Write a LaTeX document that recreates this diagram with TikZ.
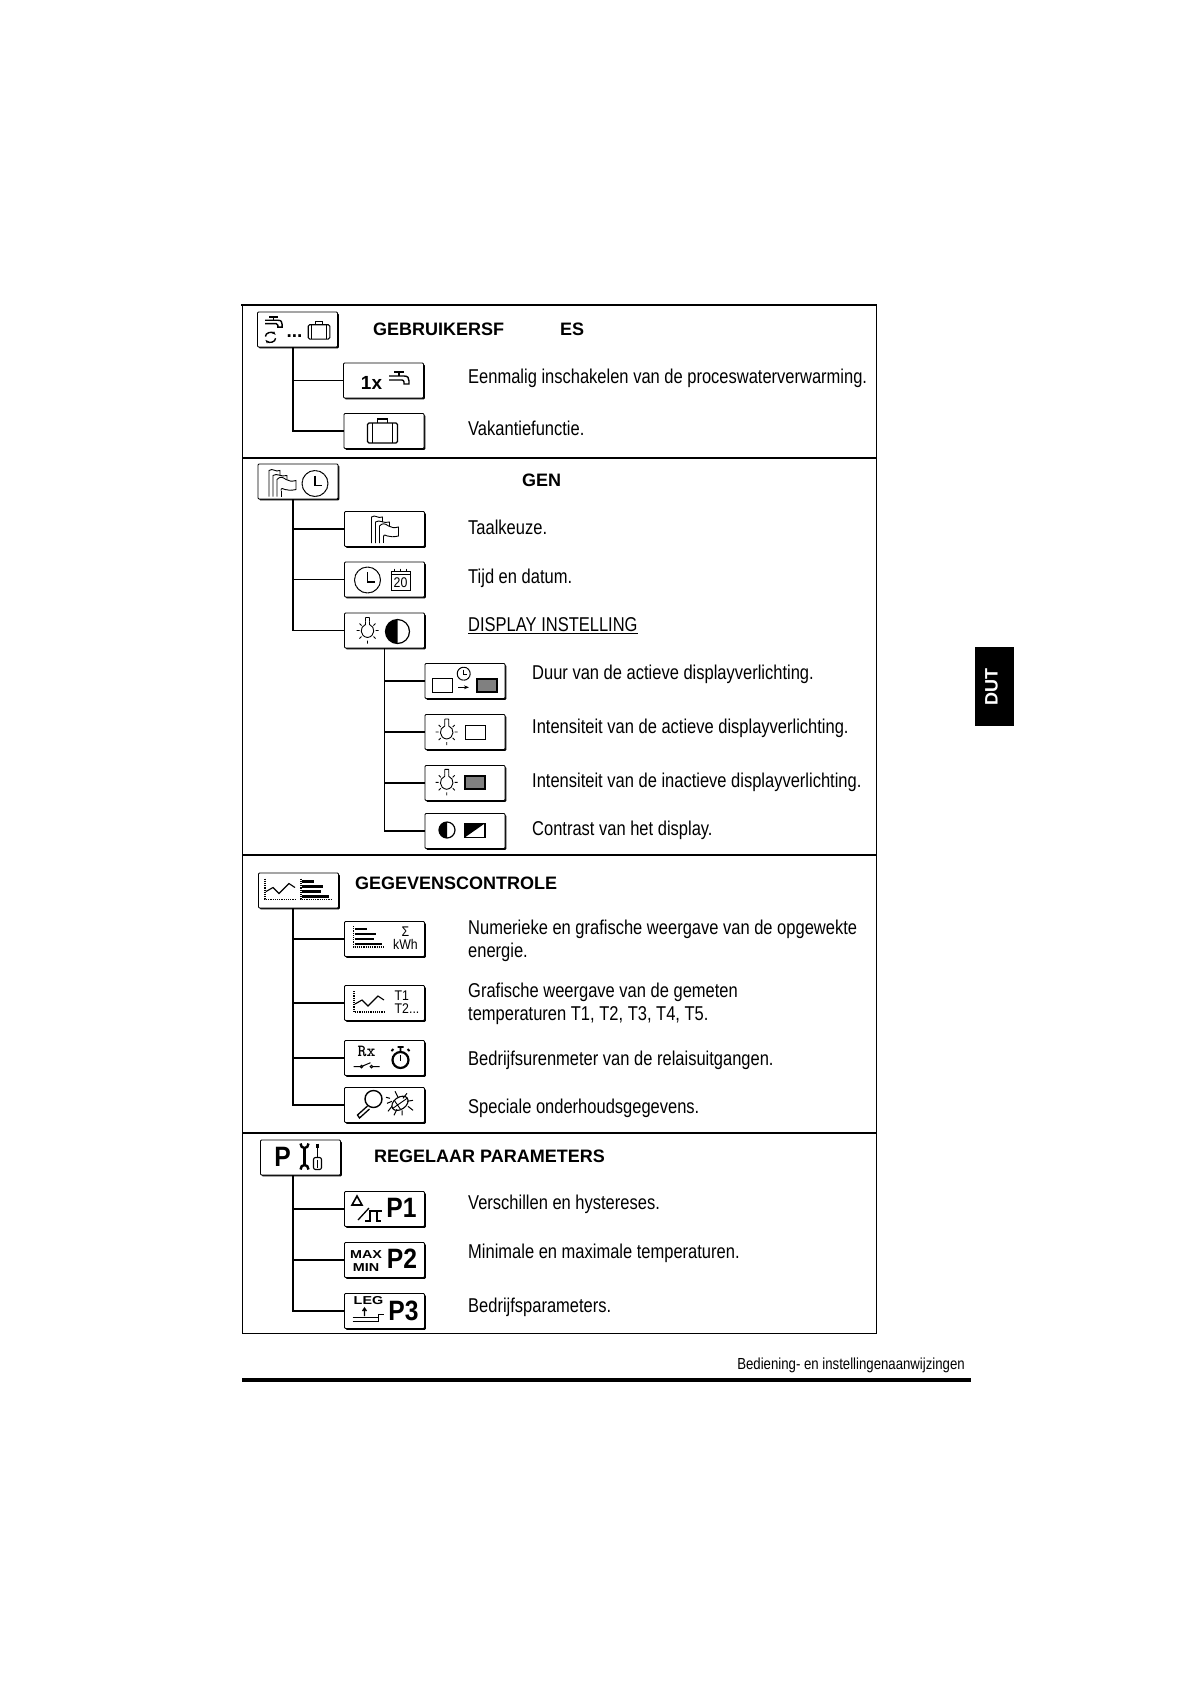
\documentclass[tikz,border=0pt]{standalone}
\usepackage{fontspec}
\setmainfont{Liberation Sans}
\newfontfamily\bodyfont[FakeStretch=0.825]{Liberation Sans}
\newfontfamily\iconfont[FakeStretch=0.88]{Liberation Sans}
\newfontfamily\widefont[FakeStretch=1.25]{Liberation Sans}
\usetikzlibrary{shadows,arrows.meta}
\tikzset{
  iconbox/.style={draw,fill=white,line width=.8pt,rounded corners=1pt,minimum width=80pt,minimum height=35pt,inner sep=0pt,
    drop shadow={shadow xshift=1.3pt,shadow yshift=-1.3pt,opacity=1,fill=black}},
  conn/.style={line width=1.9pt},
  sect/.style={line width=1.4pt},
  headtxt/.style={anchor=west,inner sep=0pt,font=\fontsize{18}{20}\selectfont\bfseries},
  bodytxt/.style={anchor=west,inner sep=0pt,align=left,font=\fontsize{20}{23}\bodyfont},
  thin icon/.style={line width=.9pt},
  bigp/.style={inner sep=0pt,font=\fontsize{28}{28}\iconfont\bfseries},
  smalltxt/.style={inner sep=0pt,font=\fontsize{14}{13}\iconfont},
  pixeltxt/.style={inner sep=0pt,align=center,font=\fontsize{11.5}{13}\widefont\bfseries},
  tap/.pic={
    \draw[line width=2.2pt] (-6,-9) -- (4,-9);
    \draw[line width=1.6pt] (-1,-9) -- (-1,-5);
    \draw[line width=1.4pt] (-11,-5) -- (4,-5) .. controls (8,-5) and (9,-3) .. (9,0) -- (9,3) -- (4,3) -- (4,1) .. controls (4,0) and (3,-1) .. (2,-1) -- (-11,-1);
  },
  recycle/.pic={
    \draw[line width=1.4pt,-{Stealth[length=4pt]}] (-6,0) .. controls (-6,-5) and (2,-6) .. (6,-2);
    \draw[line width=1.4pt,-{Stealth[length=4pt]}] (6,2) .. controls (6,7) and (-2,8) .. (-6,4);
  },
  suitcase/.pic={
    \draw[line width=1.1pt,rounded corners=1.5pt] (-15,-8) rectangle (15,12);
    \draw[line width=1.1pt] (-5,-8) -- (-5,-12) -- (5,-12) -- (5,-8);
    \draw[line width=1.1pt] (-10,-8) -- (-10,12) (10,-8) -- (10,12);
  },
  flags/.pic={
    \draw[thin icon] (-13,14) -- (-13,-12) .. controls (-9,-15) and (-7,-10) .. (-2,-12) -- (-2,-7);
    \draw[thin icon] (-9,14) -- (-9,-7) .. controls (-5,-10) and (-1,-5) .. (5,-7) -- (5,-3);
    \draw[thin icon] (-5,14) -- (-5,-3) .. controls (-2,-6) and (0,-6) .. (4,-3) .. controls (7,-1) and (10,-1) .. (14,-2) -- (14,7) .. controls (9,8) and (6,8) .. (3,7) .. controls (1,6) and (-1,5) .. (-1,8);
    \draw[thin icon] (-1,14) -- (-1,8);
  },
  clockface/.pic={
    \draw[line width=1pt,dash pattern=on 3pt off .4pt] (0,0) circle (13);
    \draw[line width=1.1pt] (0,-8) -- (0,2) -- (7,2);
  },
  calendar/.pic={
    \draw[line width=1pt] (-9.5,-8) rectangle (9.5,11);
    \draw[line width=1pt] (-9.5,-5) -- (9.5,-5);
    \draw[line width=1.4pt] (-6,-11) -- (-6,-8) (0,-11) -- (0,-8) (6,-11) -- (6,-8);
    \node[smalltxt] (calnum) at (0,3) {20};
  },
  bulb/.pic={
    \draw[thin icon,rounded corners=.5pt] (-2,-9) -- (-2,-13) -- (2,-13) -- (2,-9);
    \draw[thin icon] (-2,-9) -- (-2,-6) .. controls (-8,-4) and (-8,6) .. (0,7) .. controls (8,6) and (8,-4) .. (2,-6) -- (2,-9);
    \draw[thin icon] (-11,0) -- (-8,0) (8,0) -- (11,0) (0,10) -- (0,13) (-8,-7) -- (-6,-5) (8,-7) -- (6,-5) (-8,8) -- (-6,6) (8,8) -- (6,6);
  },
  halfdisc/.pic={
    \draw[line width=1.2pt] (0,0) circle (10);
    \fill (0,-10) arc (-90:-270:10) -- cycle;
  },
  screen/.pic={\draw[line width=.9pt] (-10,-7) rectangle (10,7);},
  dimscreen/.pic={\draw[line width=1.4pt,fill=black!50] (-10,-6.5) rectangle (10,6.5);},
  contrastscreen/.pic={
    \draw[line width=1.1pt] (-10,-7) rectangle (10,7);
    \fill (-10,-7) -- (10,-7) -- (-10,7) -- cycle;
  },
  barchart/.pic={
    \draw[densely dotted,line width=1.2pt] (-15,-11) -- (-15,10) -- (15,10);
    \draw[line width=2.5pt] (-14,-8) -- (-2,-8) (-14,-3) -- (7,-3) (-14,2) -- (5,2) (-14,7) -- (13,7);
  },
  linechart/.pic={
    \draw[densely dotted,line width=1.2pt] (-15,-11) -- (-15,10) -- (15,10);
    \draw[line width=1.1pt] (-14,2) -- (-7,-2) -- (-1,4) -- (9,-6) -- (15,-2);
  },
  stopwatch/.pic={
    \draw[line width=2.2pt] (0,2) circle (8);
    \draw[line width=1.8pt] (-3,-11) -- (3,-11) (0,-11) -- (0,-6) (7,-9) -- (9,-7) (-7,-9) -- (-9,-7);
    \draw[line width=1.4pt] (0,-3) -- (0,3);
  },
  switch/.pic={
    \draw[line width=1pt] (-13,0) -- (-6,0) (6,0) -- (13,0) (-5,-.2) -- (4,-4);
    \draw[line width=1pt] (-5,0) circle (1.3) (5,0) circle (1.3);
  },
  loupe/.pic={
    \draw[line width=1.4pt] (5,-8) circle (8.5);
    \draw[line width=1.3pt] (-1,-1) -- (-11,8) -- (-9,11) -- (1,2);
  },
  bug/.pic={
    \draw[line width=1.1pt,rotate=35] (0,0) ellipse (9 and 6);
    \draw[line width=.9pt,rotate=35] (-9,0) -- (9,0) (-3,-5) -- (-3,5);
    \draw[line width=1pt] (-2,-6) -- (-5,-12) (3,-5) -- (7,-10) (7,-2) -- (13,-3) (8,3) -- (13,7) (-8,-2) -- (-13,0) (-8,3) -- (-12,8) (-3,6) -- (-6,12) (2,7) -- (2,12) (-14,-6) -- (-10,-5);
  },
  tools/.pic={
    \draw[line width=3.4pt] (-8,-9) -- (-8,9);
    \draw[line width=2.4pt] (-12,-13) .. controls (-12,-7) and (-4,-7) .. (-4,-13);
    \draw[line width=2.4pt] (-12,13) .. controls (-12,7) and (-4,7) .. (-4,13);
    \draw[line width=3.6pt] (5,-13) -- (5,-9);
    \draw[line width=1.2pt] (5,-9) -- (5,0);
    \draw[line width=1.1pt,rounded corners=2pt] (1,13) -- (1,1) -- (9,1) -- (9,13) -- cycle;
    \draw[line width=1pt] (5,3) -- (5,11);
  },
  deltastep/.pic={
    \draw[line width=1.6pt] (-16,-4) -- (-11,-13) -- (-6,-4) -- cycle;
    \draw[line width=1.3pt] (-10,11) -- (1,-1);
    \draw[line width=2.4pt] (-3,12) -- (2,12) -- (2,2) -- (14,2);
    \draw[line width=2.2pt] (9,2) -- (9,12) -- (13,12);
  },
  legtiming/.pic={
    \draw[line width=1pt] (-15,2) -- (11,2);
    \draw[line width=1pt] (-15,6) -- (11,6) -- (11,-1) -- (16,-1);
    \draw[line width=1.2pt] (-3,-7) -- (-3,1) (-5,-4) -- (-3,-7) -- (-1,-4);
  },
}
\begin{document}
\begin{tikzpicture}[x=1pt,y=-1pt]
        \useasboundingbox (0,0) rectangle (1190,1684);
        \draw[line width=.9pt] (242,305) -- (242,1333) -- (876,1333) -- (876,305);
        \draw[line width=2.4pt] (241,305) -- (877,305);
        \draw[sect] (242,458) -- (876,458);
        \draw[sect] (242,855) -- (876,855);
        \draw[sect] (242,1133) -- (876,1133);

        \node[iconbox] (user) at (297.5,329.5) {};
        \node[iconbox] (once) at (383.5,380.5) {};
        \node[iconbox] (holiday) at (384,431) {};
        \node[iconbox] (basic) at (298,481.5) {};
        \node[iconbox] (lang) at (384.5,529) {};
        \node[iconbox] (clockdate) at (384.5,579.5) {};
        \node[iconbox] (display) at (384.5,630.5) {};
        \node[iconbox] (duration) at (465,681) {};
        \node[iconbox] (active) at (465,732) {};
        \node[iconbox] (inactive) at (465,783) {};
        \node[iconbox] (contrast) at (465,831) {};
        \node[iconbox] (data) at (298.5,890.5) {};
        \node[iconbox] (energy) at (384.5,939) {};
        \node[iconbox] (temps) at (384.5,1003) {};
        \node[iconbox] (hours) at (384.5,1058) {};
        \node[iconbox] (service) at (384.5,1105) {};
        \node[iconbox] (param) at (300.5,1157.5) {};
        \node[iconbox] (pone) at (384.5,1209) {};
        \node[iconbox] (ptwo) at (384.5,1260) {};
        \node[iconbox] (pthree) at (384.5,1311) {};

        \draw[conn] ([xshift=-4.5pt]user.south) |- (once.west);
        \draw[conn] ([xshift=-4.5pt]user.south) |- (holiday.west);
        \draw[conn] ([xshift=-5pt]basic.south) |- (lang.west);
        \draw[conn] ([xshift=-5pt]basic.south) |- (clockdate.west);
        \draw[conn] ([xshift=-5pt]basic.south) |- (display.west);
        \draw[conn] (display.south) |- (duration.west);
        \draw[conn] (display.south) |- (active.west);
        \draw[conn] (display.south) |- (inactive.west);
        \draw[conn] (display.south) |- (contrast.west);
        \draw[conn] ([xshift=-5.5pt]data.south) |- (energy.west);
        \draw[conn] ([xshift=-5.5pt]data.south) |- (temps.west);
        \draw[conn] ([xshift=-5.5pt]data.south) |- (hours.west);
        \draw[conn] ([xshift=-5.5pt]data.south) |- (service.west);
        \draw[conn] ([xshift=-7.5pt]param.south) |- (pone.west);
        \draw[conn] ([xshift=-7.5pt]param.south) |- (ptwo.west);
        \draw[conn] ([xshift=-7.5pt]param.south) |- (pthree.west);

        \pic[scale=.85] at ([shift={(-23,-5)}]user.center) {tap};
        \pic[scale=.85] at ([shift={(-27,7)}]user.center) {recycle};
        \node[inner sep=0pt,font=\fontsize{19}{19}\selectfont\bfseries] (dots) at ([shift={(-3,7)}]user.center) {...};
        \pic[scale=.72] at ([shift={(21.5,1)}]user.center) {suitcase};
        \node[inner sep=0pt,font=\fontsize{19}{19}\selectfont\bfseries] (onex) at ([shift={(-12,2)}]once.center) {1x};
        \pic at ([shift={(16.5,0.5)}]once.center) {tap};
        \pic at ([shift={(-1.5,0)}]holiday.center) {suitcase};
        \pic at ([shift={(-16,1)}]basic.center) {flags};
        \pic at ([shift={(17,2)}]basic.center) {clockface};
        \pic at (lang.center) {flags};
        \pic at ([shift={(-17,0.5)}]clockdate.center) {clockface};
        \pic at ([shift={(16,0)}]clockdate.center) {calendar};
        \pic at ([shift={(-17,0)}]display.center) {bulb};
        \pic[scale=1.2] at ([shift={(13,1)}]display.center) {halfdisc};
        \pic at ([shift={(-23,4.7)}]duration.center) {screen};
        \pic[scale=.5] at ([shift={(-1.3,-7.3)}]duration.center) {clockface};
        \coordinate (arrowtail) at ([shift={(-7,6.3)}]duration.center);
        \coordinate (arrowhead) at ([shift={(4,6.3)}]duration.center);
        \draw[line width=1.3pt,-{Stealth[length=5pt]}] (arrowtail) -- (arrowhead);
        \pic at ([shift={(22,4.3)}]duration.center) {dimscreen};
        \pic at ([shift={(-18.3,0)}]active.center) {bulb};
        \pic at ([shift={(10,0)}]active.center) {screen};
        \pic at ([shift={(-18.3,-.7)}]inactive.center) {bulb};
        \pic at ([shift={(10,-.7)}]inactive.center) {dimscreen};
        \pic[scale=.8] at ([shift={(-18,-1)}]contrast.center) {halfdisc};
        \pic at ([shift={(10,-.7)}]contrast.center) {contrastscreen};
        \pic at ([shift={(-18.5,-1)}]data.center) {linechart};
        \pic at ([shift={(17.5,-1)}]data.center) {barchart};
        \pic at ([shift={(-16,-2)}]energy.center) {barchart};
        \node[smalltxt,align=center] (kwh) at ([shift={(21,-1)}]energy.center) {Σ\\kWh};
        \pic at ([shift={(-15.5,-1)}]temps.center) {linechart};
        \node[smalltxt,anchor=west,align=left] (tones) at ([shift={(10,-1)}]temps.center) {T1\\T2...};
        \node[inner sep=0pt,font=\fontsize{17}{17}\ttfamily\bfseries] (rx) at ([shift={(-18,-6.3)}]hours.center) {Rx};
        \pic at ([shift={(-18,8.7)}]hours.center) {switch};
        \pic at ([shift={(16,0)}]hours.center) {stopwatch};
        \pic at ([shift={(-16,2)}]service.center) {loupe};
        \pic at ([shift={(15.5,-1.7)}]service.center) {bug};
        \node[bigp] (ptxt) at ([shift={(-18,-1)}]param.center) {P};
        \pic at ([shift={(12,-1)}]param.center) {tools};
        \pic at ([shift={(-16.5,0)}]pone.center) {deltastep};
        \node[bigp] (ponetxt) at ([shift={(17,-.7)}]pone.center) {P1};
        \node[pixeltxt] (maxmin) at ([shift={(-18.5,1)}]ptwo.center) {MAX\\MIN};
        \node[bigp] (ptwotxt) at ([shift={(17.5,-1)}]ptwo.center) {P2};
        \node[pixeltxt] (leg) at ([shift={(-16,-10)}]pthree.center) {LEG};
        \pic at ([shift={(-17,4)}]pthree.center) {legtiming};
        \node[bigp] (pthreetxt) at ([shift={(19,0)}]pthree.center) {P3};

        \node[headtxt] (userhead) at (373,329) {GEBRUIKERSF};
        \node[headtxt] (userhead2) at (560,329) {ES};
        \node[headtxt] (basichead) at (522,480) {GEN};
        \node[headtxt] (datahead) at (355,883) {GEGEVENSCONTROLE};
        \node[headtxt] (paramhead) at (374,1156) {REGELAAR PARAMETERS};

        \node[bodytxt] (oncetxt) at (468,378) {Eenmalig inschakelen van de proceswaterverwarming.};
        \node[bodytxt] (holidaytxt) at (468,428) {Vakantiefunctie.};
        \node[bodytxt] (langtxt) at (468,527) {Taalkeuze.};
        \node[bodytxt] (clocktxt) at (468,578) {Tijd en datum.};
        \node[bodytxt] (displaytxt) at (468,626) {\underline{DISPLAY INSTELLING}};
        \node[bodytxt] (durationtxt) at (532,674) {Duur van de actieve displayverlichting.};
        \node[bodytxt] (activetxt) at (532,728) {Intensiteit van de actieve displayverlichting.};
        \node[bodytxt] (inactivetxt) at (532,782) {Intensiteit van de inactieve displayverlichting.};
        \node[bodytxt] (contrasttxt) at (532,830) {Contrast van het display.};
        \node[bodytxt] (energytxt) at (468,941) {Numerieke en grafische weergave van de opgewekte\\energie.};
        \node[bodytxt] (tempstxt) at (468,1004) {Grafische weergave van de gemeten\\temperaturen T1, T2, T3, T4, T5.};
        \node[bodytxt] (hourstxt) at (468,1060) {Bedrijfsurenmeter van de relaisuitgangen.};
        \node[bodytxt] (servicetxt) at (468,1108) {Speciale onderhoudsgegevens.};
        \node[bodytxt] (ponedesc) at (468,1204) {Verschillen en hystereses.};
        \node[bodytxt] (ptwodesc) at (468,1253) {Minimale en maximale temperaturen.};
        \node[bodytxt] (pthreedesc) at (468,1307) {Bedrijfsparameters.};

        \node[anchor=east,inner sep=0pt,font=\fontsize{16}{16}\bodyfont] (manual) at (965,1365) {Bediening- en instellingenaanwijzingen};
        \draw[line width=3.5pt] (242,1380) -- (971,1380);
        \node[fill=black,minimum width=39pt,minimum height=79pt,inner sep=0pt] (tab) at (994.5,686.5) {};
        \node[rotate=90,text=white,inner sep=0pt,font=\fontsize{18}{18}\selectfont\bfseries] (tabtxt) at ([xshift=-3pt]tab.center) {DUT};
    \end{tikzpicture}
\end{document}
